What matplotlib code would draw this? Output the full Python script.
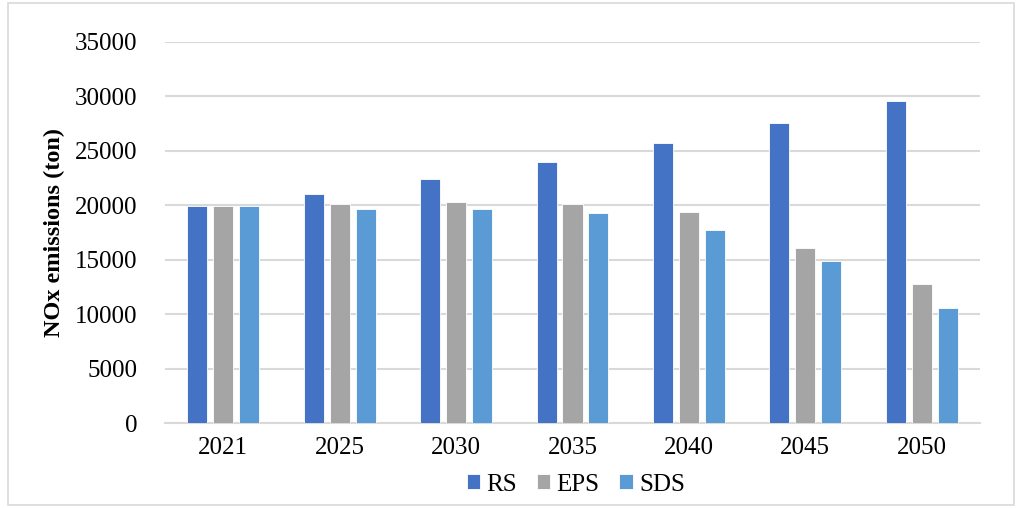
import matplotlib.pyplot as plt
import numpy as np

plt.rcParams['font.family'] = ['Liberation Serif', 'DejaVu Serif']

years = ['2021', '2025', '2030', '2035', '2040', '2045', '2050']
rs = [19900, 21000, 22400, 24000, 25700, 27550, 29550]
eps = [19900, 20100, 20300, 20100, 19350, 16050, 12800]
sds = [19900, 19700, 19700, 19250, 17700, 14900, 10600]

series = [('RS', rs, '#4472C4'), ('EPS', eps, '#A5A5A5'), ('SDS', sds, '#5B9BD5')]

fig = plt.figure(figsize=(10.21, 5.08), dpi=100)
ax = fig.add_axes([165 / 1021, 1 - 423 / 508, (980 - 165) / 1021, (423 - 42) / 508])

x = np.arange(len(years))
width = 0.172
step = 0.223
for i, (name, vals, color) in enumerate(series):
    ax.bar(x + (i - 1) * step, vals, width, color=color, edgecolor='white',
           linewidth=0.6, label=name, zorder=3)

ax.set_xlim(-0.5, len(years) - 0.5)
ax.set_ylim(0, 35000)
ax.set_yticks(range(0, 35001, 5000))
ax.set_xticks(x)
ax.set_xticklabels(years)
ax.yaxis.grid(True, color='#D9D9D9', linewidth=1.5, zorder=0)
for s in ['top', 'right', 'left']:
    ax.spines[s].set_visible(False)
ax.spines['bottom'].set_color('#D9D9D9')
ax.spines['bottom'].set_linewidth(1.5)
ax.tick_params(axis='both', length=0, labelsize=18, colors='black')
ax.tick_params(axis='y', pad=20)
ax.tick_params(axis='x', pad=10)

ax.set_ylabel('NOx emissions (ton)', fontsize=17.5, fontweight='bold', labelpad=7)

ax.legend(loc='center', bbox_to_anchor=(0.504, -0.162), ncol=3, frameon=False,
          fontsize=18, handlelength=0.55, handleheight=0.55, handletextpad=0.25,
          columnspacing=0.78, borderpad=0)

# thin frame around the whole figure
fig.patches.append(plt.Rectangle((8 / 1021, 3 / 508), 1006 / 1021, 502 / 508,
                                 transform=fig.transFigure, fill=False,
                                 edgecolor='#D9D9D9', linewidth=1.2))

fig.savefig('out.png', dpi=100)
